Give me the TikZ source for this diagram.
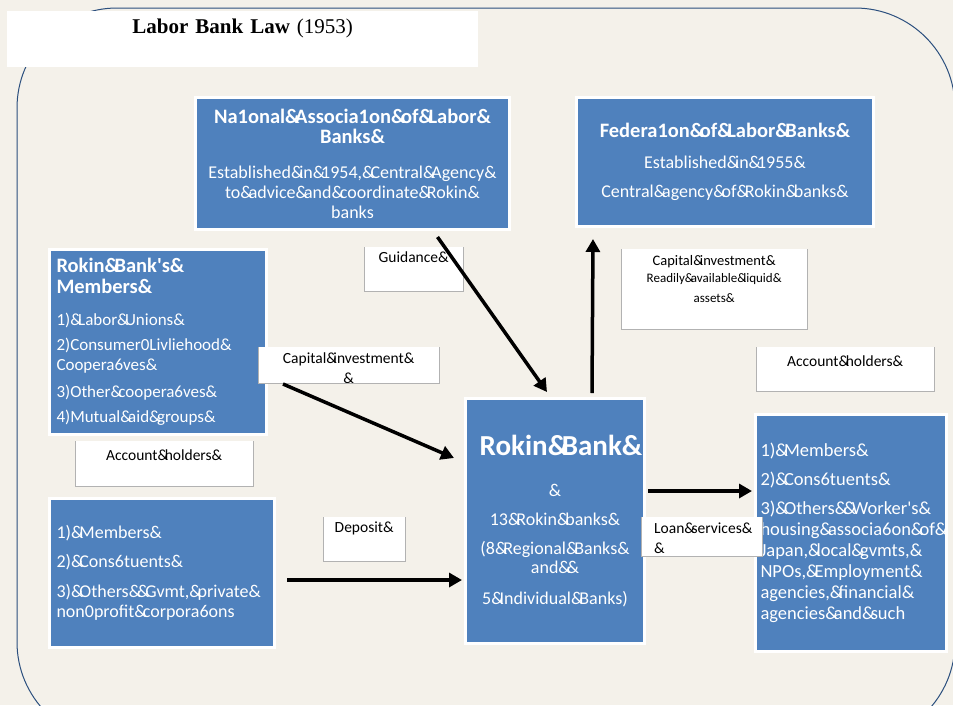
\documentclass[tikz,border=0pt]{standalone}
\usepackage{fontspec}
\setmainfont{Carlito}
\newfontfamily\timesfont{Liberation Serif}
\usetikzlibrary{arrows.meta}
\definecolor{bgbeige}{HTML}{F4F1EA}
\definecolor{boxblue}{HTML}{4F81BD}
\definecolor{frameblue}{HTML}{2B4F7E}
\newcommand\wamp{\&\kern-.22em}
\tikzset{
  bluebox/.style={fill=boxblue, draw=white, line width=3pt, text=white, inner xsep=2pt,
    inner ysep=0pt, anchor=north west, font=\fontsize{18}{20}\selectfont},
  lblbox/.style={fill=white, inner sep=0pt, align=center,
    anchor=north west, font=\fontsize{15.5}{20}\selectfont},
  arr/.style={line width=3.5pt, -{Triangle[width=14pt,length=13pt]}},
}
\begin{document}
\begin{tikzpicture}[x=1pt, y=-1pt]
\useasboundingbox (0,0) rectangle (953,705);
\fill[bgbeige] (0,0) rectangle (953,705);
\draw[frameblue, line width=1pt, rounded corners=100pt] (17,8) rectangle (955,742);
% title
\node[fill=white, inner sep=0pt, anchor=north west, align=center, text width=471pt,
  text height=22pt, text depth=34pt, font=\timesfont\fontsize{21}{22}\selectfont]
  (title) at (7,11) {\textbf{Labor Bank Law} (1953)};
% blue boxes
\node[bluebox, text width=310pt, minimum height=132pt, align=center] (nalb) at (194,96)
  {{\bfseries\fontsize{20.5}{20}\selectfont Na1onal\wamp Associa1on\wamp of\wamp Labor\&\\Banks\&}\\[15pt]
   Established\wamp in\wamp 1954,\wamp Central\wamp Agency\&\\
   to\wamp advice\wamp and\wamp coordinate\wamp Rokin\&\\
   banks};
\node[bluebox, text width=293pt, minimum height=129pt, align=center] (flb) at (575,96)
  {{\bfseries\fontsize{20.5}{20}\selectfont Federa1on\wamp of\wamp Labor\wamp Banks\&}\\[11pt]
   Established\wamp in\wamp 1955\&\\[9pt]
   Central\wamp agency\wamp of\wamp Rokin\wamp banks\&};
\node[bluebox, text width=203pt, inner xsep=7pt, minimum height=185pt, align=left,
  font=\fontsize{17}{20}\selectfont] (members) at (48,248)
  {{\bfseries\fontsize{20.5}{20}\selectfont Rokin\wamp Bank\textquotesingle s\&\\[1pt]Members\&}\\[12pt]
   1)\wamp Labor\wamp Unions\&\\[5pt]
   2)Consumer0Livliehood\&\\
   Coopera6ves\&\\[7pt]
   3)Other\wamp coopera6ves\&\\[5pt]
   4)Mutual\wamp aid\wamp groups\&};
\node[bluebox, text width=211pt, inner xsep=7pt, minimum height=149pt, align=left] (others) at (48,497)
  {1)\wamp Members\&\\[9pt]
   2)\wamp Cons6tuents\&\\[10pt]
   3)\wamp Others\wamp\wamp Gvmt,\wamp private\&\\
   non0profit\wamp corpora6ons};
\node[bluebox, text width=175pt, minimum height=245pt, align=center] (rokin) at (464,397)
  {{\bfseries\fontsize{29}{26}\selectfont\hspace*{12pt}Rokin\wamp Bank\&}\\[21pt]
   \&\\[9pt]
   13\wamp Rokin\wamp banks\&\\[9pt]
   (8\wamp Regional\wamp Banks\&\\[-1pt]
   and\wamp\&\\[11pt]
   5\wamp Individual\wamp Banks)};
\node[bluebox, text width=181pt, inner xsep=5pt, minimum height=237pt, align=left,
  font=\fontsize{18.5}{21}\selectfont] (users) at (754,413)
  {1)\wamp Members\&\\[8pt]
   2)\wamp Cons6tuents\&\\[8pt]
   3)\wamp Others\wamp\wamp Worker\textquotesingle s\&\\
   housing\wamp associa6on\wamp of\&\\
   Japan,\wamp local\wamp gvmts,\&\\
   NPOs,\wamp Employment\&\\
   agencies,\wamp financial\&\\
   agencies\wamp and\wamp such};
% labels
\node[lblbox, text width=99pt, text height=15pt, text depth=29pt] (guide) at (364,247) {Guidance\&};
\node[lblbox, text width=181pt, text height=16pt, text depth=20pt] (capleft) at (258,347)
  {Capital\wamp investment\&\\\&};
\node[lblbox, text width=186pt, text height=16pt, text depth=64pt] (capright) at (621,249)
  {\fontsize{14.5}{17}\selectfont Capital\wamp investment\&\\\fontsize{13}{17}\selectfont Readily\wamp available\wamp liquid\&\\assets\&};
\node[lblbox, text width=178pt, text height=19pt, text depth=25pt] (accright) at (756,347) {Account\wamp holders\&};
\node[lblbox, text width=178pt, text height=19pt, text depth=26pt] (accleft) at (75,441) {Account\wamp holders\&};
\node[lblbox, text width=82pt, text height=15pt, text depth=29pt] (deposit) at (323,517) {Deposit\&};
\node[lblbox, align=left, text width=95pt, inner xsep=13pt, text height=16pt, text depth=23pt] (loan) at (641,517)
  {Loan\wamp services\&\\\&};
\foreach \n in {guide,capleft,capright,accright,accleft,deposit,loan}
  \draw[black!30, line width=0.8pt] (\n.north west) |- (\n.south east) -- (\n.north east);
% arrows
\draw[arr] ([xshift=85pt,yshift=-6pt]nalb.south) -- ([xshift=-8pt,yshift=5pt]rokin.north);
\draw[arr] ([xshift=37pt,yshift=4pt]rokin.north) -- ([xshift=-132pt,yshift=-11pt]flb.south);
\draw[arr] ([xshift=15pt,yshift=-42pt]members.east) -- ([xshift=-10pt,yshift=63pt]rokin.west);
\draw[arr] ([xshift=11pt,yshift=-7pt]others.east) -- ([xshift=-2pt,yshift=-59pt]rokin.west);
\draw[arr] ([xshift=2pt,yshift=30pt]rokin.east) -- ([xshift=-2pt,yshift=42pt]users.west);
\end{tikzpicture}
\end{document}
